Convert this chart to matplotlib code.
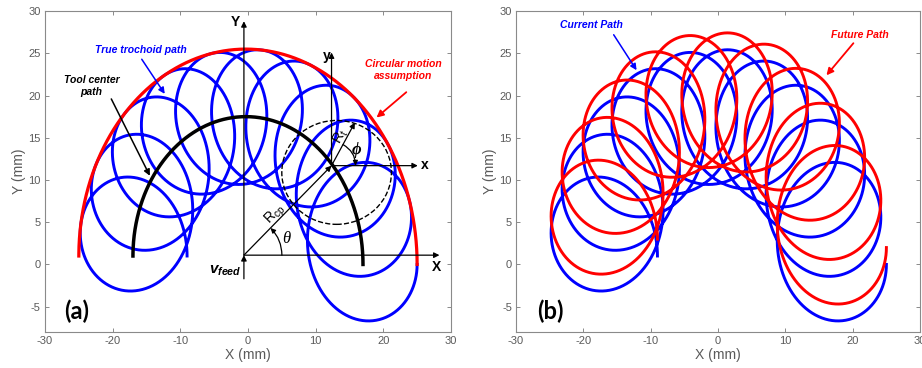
import numpy as np
import matplotlib.pyplot as plt
from matplotlib.patches import Ellipse

plt.rcParams["font.family"] = ["Liberation Sans", "DejaVu Sans"]
plt.rcParams["axes.unicode_minus"] = False
plt.rcParams["mathtext.fontset"] = "custom"
plt.rcParams["mathtext.rm"] = "Liberation Sans"
plt.rcParams["mathtext.it"] = "Liberation Sans:italic:bold"

# ── Path geometry (mm) ───────────────────────────────────────────────────────
R_CP = 17.0        # radius of the tool center path
R_T = 8.0          # trochoid (tool motion) radius
N_LOOPS = 10       # tool revolutions over the half circle
FEED_RISE = 1.0    # Y drift of the center over one pass
NEXT_STEP = 2.0    # Y offset of the following pass

X_TICKS = [-30, -20, -10, 0, 10, 20, 30]
Y_TICKS = [-5, 0, 5, 10, 15, 20, 25, 30]

theta = np.linspace(0, np.pi, 5000)
drift = FEED_RISE * theta / np.pi
phi = -2 * N_LOOPS * theta

center_x = R_CP * np.cos(theta)
center_y = R_CP * np.sin(theta) + drift
troch_x = center_x + R_T * np.cos(phi)
troch_y = center_y + R_T * np.sin(phi)
env_x = (R_CP + R_T) * np.cos(theta)
env_y = (R_CP + R_T) * np.sin(theta) + drift

BLUE, RED = "#0000ff", "#ff0000"
GREY = "#5a5a5a"

fig = plt.figure(figsize=(9.22, 3.68), dpi=100)
ax_a = fig.add_axes([0.0488, 0.0978, 0.4403, 0.872])
ax_b = fig.add_axes([0.5597, 0.0978, 0.4382, 0.872])


def style_axes(ax):
    ax.set_xlim(-30, 30)
    ax.set_ylim(-8, 30)
    ax.set_xticks(X_TICKS)
    ax.set_yticks(Y_TICKS)
    ax.tick_params(direction="in", top=True, right=True, length=3, width=0.7,
                   color="#8a8a8a", labelcolor=GREY, labelsize=8, pad=3)
    for s in ax.spines.values():
        s.set_color("#8a8a8a")
        s.set_linewidth(0.8)
    ax.set_xlabel("X (mm)", color=GREY, fontsize=10, labelpad=1)
    ax.set_ylabel("Y (mm)", color=GREY, fontsize=10, labelpad=2)


def arrow(ax, start, end, color="k", lw=0.9, ms=8):
    ax.annotate("", xy=end, xytext=start,
                arrowprops=dict(arrowstyle="-|>", color=color, lw=lw,
                                mutation_scale=ms, shrinkA=0, shrinkB=0))


def screen_offset(ax, base, r, ang):
    # point r pixels away from base at a screen angle ang (deg)
    bx, by = ax.transData.transform(base)
    a = np.radians(ang)
    return tuple(ax.transData.inverted().transform((bx + r * np.cos(a), by + r * np.sin(a))))


note = dict(fontsize=7.5, fontweight="bold", fontstyle="italic", ha="center", va="center")

# ── (a) trochoid vs circular motion ──────────────────────────────────────────
style_axes(ax_a)
ax_a.plot(troch_x, troch_y, color=BLUE, lw=2.1, zorder=2)
ax_a.plot(center_x, center_y, color="k", lw=2.5, zorder=3)
ax_a.plot(env_x, env_y, color=RED, lw=2.3, zorder=3)

origin = (-0.6, 1.1)
tool_c = (12.35, 11.7)
arrow(ax_a, (-0.6, -1.7), origin)
arrow(ax_a, origin, (-0.6, 28.8))
arrow(ax_a, origin, (28.3, 1.1))
arrow(ax_a, origin, tool_c)
arrow(ax_a, tool_c, (12.35, 25.1))
arrow(ax_a, tool_c, (25.1, 11.7))
arrow(ax_a, tool_c, (15.8, 16.8))
ax_a.add_patch(Ellipse((13.1, 10.9), 16.2, 12.3, fill=False, ls="--", lw=1.0,
                       color="k", zorder=4))

# angle arcs for theta and phi
th_a = screen_offset(ax_a, origin, 38, 0)
th_b = screen_offset(ax_a, origin, 38, 45.6)
ax_a.annotate("", xy=th_b, xytext=th_a,
              arrowprops=dict(arrowstyle="-|>", color="k", lw=0.9, mutation_scale=7,
                              shrinkA=0, shrinkB=0, connectionstyle="arc3,rad=0.2"))
ph_a = screen_offset(ax_a, tool_c, 24, 61.5)
ph_b = screen_offset(ax_a, tool_c, 24, 0)
ax_a.annotate("", xy=ph_b, xytext=ph_a,
              arrowprops=dict(arrowstyle="-|>", color="k", lw=0.9, mutation_scale=7,
                              shrinkA=0, shrinkB=0, connectionstyle="arc3,rad=-0.28"))

ax_a.text(5.6, 3.0, "θ", fontsize=12, fontstyle="italic",
          family=["Liberation Serif", "DejaVu Serif"], ha="center", va="center")
ax_a.text(16.1, 13.5, "ϕ", fontsize=12, fontstyle="italic", fontweight="bold",
          family=["Liberation Serif", "DejaVu Serif"], ha="center", va="center")
ax_a.text(4.0, 5.9, r"$\mathrm{R_{cp}}$", fontsize=10, rotation=45,
          ha="center", va="center")
ax_a.text(13.6, 15.2, r"$\mathrm{R_{t}}$", fontsize=10, rotation=61,
          ha="center", va="center")
ax_a.text(-3.4, -0.8, r"$v_{feed}$", fontsize=11, ha="center", va="center")
ax_a.text(-1.9, 28.7, "Y", fontsize=10, fontweight="bold", ha="center", va="center")
ax_a.text(27.9, -0.3, "X", fontsize=10, fontweight="bold", ha="center", va="center")
ax_a.text(11.6, 24.7, "y", fontsize=10, fontweight="bold", ha="center", va="center")
ax_a.text(26.1, 11.75, "x", fontsize=10, fontweight="bold", ha="center", va="center")

ax_a.text(-15.9, 25.4, "True trochoid path", color=BLUE, **note)
arrow(ax_a, (-15.7, 24.3), (-12.3, 20.2), color=BLUE, lw=1.1, ms=9)
ax_a.text(-23.1, 21.1, "Tool center\npath", color="k", linespacing=1.3, **note)
arrow(ax_a, (-20.2, 19.6), (-14.5, 10.5), color="k", lw=1.1, ms=9)
ax_a.text(22.9, 23.0, "Circular motion\nassumption", color=RED, linespacing=1.3, **note)
arrow(ax_a, (23.4, 20.4), (19.0, 17.4), color=RED, lw=1.3, ms=10)
ax_a.text(-25.3, -5.5, "(a)", fontsize=17, fontweight="bold",
          family=["Lato", "DejaVu Sans"], ha="center", va="center")

# ── (b) current and next pass ────────────────────────────────────────────────
style_axes(ax_b)
ax_b.plot(troch_x, troch_y, color=BLUE, lw=2.1, zorder=2)
ax_b.plot(troch_x, troch_y + NEXT_STEP, color=RED, lw=2.1, zorder=3)

ax_b.text(-18.75, 28.35, "Current Path", color=BLUE, **note)
arrow(ax_b, (-15.5, 27.2), (-12.1, 23.0), color=BLUE, lw=1.1, ms=9)
ax_b.text(21.1, 27.2, "Future Path", color=RED, **note)
arrow(ax_b, (20.1, 26.2), (16.1, 22.4), color=RED, lw=1.3, ms=10)
ax_b.text(-24.9, -5.6, "(b)", fontsize=17, fontweight="bold",
          family=["Lato", "DejaVu Sans"], ha="center", va="center")

fig.savefig("out.png", dpi=100)
